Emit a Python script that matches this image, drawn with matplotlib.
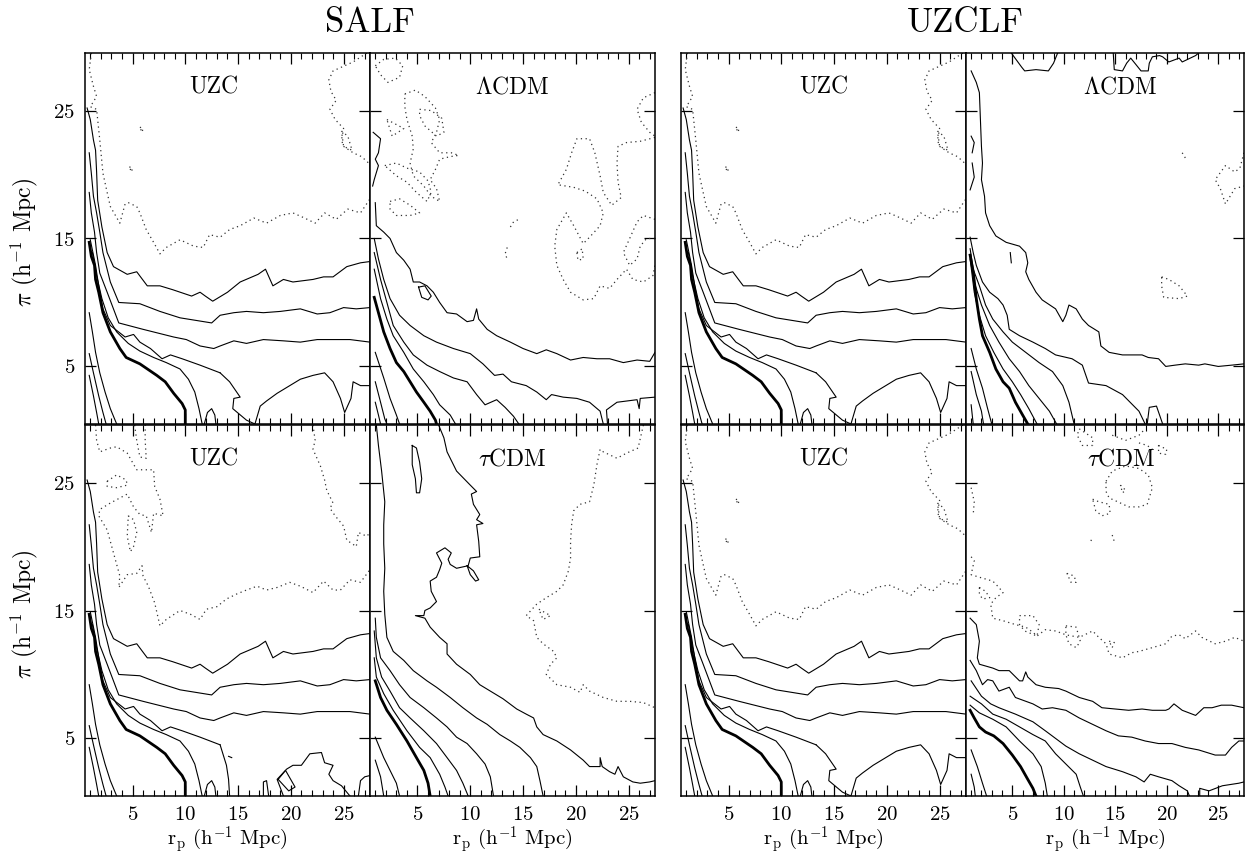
import matplotlib.pyplot as plt
from matplotlib.ticker import FixedLocator, MultipleLocator, NullLocator

plt.rcParams['font.family'] = ['cmr10', 'DejaVu Serif']
plt.rcParams['mathtext.fontset'] = 'cm'
plt.rcParams['axes.formatter.use_mathtext'] = True
plt.rcParams['axes.unicode_minus'] = False

# contour traces, points are (r_p, pi) in h^-1 Mpc

# UZC: the same solid contours show up in all four UZC panels
uzc_c1 = [(0.7, 25.2), (1.0, 24.3), (1.3, 22.7), (1.5, 21.9), (1.6, 20.2), (1.7, 18.0), (2.1, 15.9),
          (2.6, 13.9), (3.2, 12.8), (4.5, 12.2), (5.4, 12.4), (6.4, 11.3), (7.6, 11.3), (8.8, 11.0),
          (10.6, 10.5), (11.4, 10.8), (11.9, 10.5), (12.6, 10.1), (14.0, 10.8), (15.2, 11.6), (16.9, 12.2),
          (17.6, 12.6), (18.3, 11.3), (19.3, 11.8), (20.2, 11.6), (22.1, 11.8), (23.1, 12.0), (24.0, 12.0),
          (25.3, 12.8), (26.6, 13.1), (27.5, 13.2)]
uzc_c2 = [(0.9, 21.7), (1.1, 20.1), (1.3, 18.3), (1.6, 17.0), (1.9, 15.5), (2.2, 13.9), (2.9, 11.6),
          (3.7, 10.0), (5.7, 9.9), (7.6, 9.3), (9.5, 8.8), (12.5, 8.4), (13.3, 9.0), (14.6, 9.2), (15.8, 9.3),
          (17.4, 9.2), (19.0, 9.3), (20.9, 9.5), (22.5, 9.1), (23.7, 9.2), (25.0, 9.6), (26.2, 9.5), (27.5, 9.6)]
uzc_c3 = [(0.9, 18.6), (1.1, 17.0), (1.4, 15.5), (1.6, 13.9), (1.9, 12.3), (2.6, 10.8), (3.7, 8.4),
          (6.0, 7.9), (8.9, 7.3), (10.1, 7.1), (11.4, 6.6), (12.7, 6.4), (13.3, 6.6), (14.6, 7.0), (15.8, 6.8),
          (17.4, 7.1), (19.3, 7.0), (20.9, 6.9), (22.5, 7.1), (24.0, 7.1), (25.6, 7.1), (27.5, 6.9)]
uzc_c4 = [(1.0, 14.9), (1.5, 12.9), (1.8, 11.3), (2.2, 9.5), (2.9, 8.2), (4.3, 7.3), (5.1, 7.5), (5.7, 6.9),
          (6.7, 6.4), (7.8, 5.6), (8.6, 5.9), (9.7, 5.6), (11.4, 5.1), (13.3, 4.5)]
uzc_c4_tail = [(13.3, 4.5), (14.2, 3.8), (15.2, 2.6), (14.6, 2.5), (14.5, 1.7), (15.8, 0.8), (16.6, 0.5),
               (17.1, 1.9), (17.7, 2.3), (18.7, 2.9), (19.9, 3.5), (20.9, 4.0), (22.1, 4.3), (23.2, 4.5),
               (24.0, 3.8), (24.7, 2.5), (25.1, 1.4), (25.7, 2.5), (25.9, 3.8), (26.6, 3.5), (27.5, 3.5)]
uzc_c5 = [(1.2, 13.9), (1.6, 12.1), (2.1, 10.3), (2.7, 8.8), (3.5, 7.7), (4.6, 6.8), (5.7, 6.2), (7.0, 5.7),
          (8.2, 5.3), (9.5, 4.8), (10.3, 4.0), (10.9, 3.0), (11.3, 1.7), (11.6, 0.5)]
uzc_c5_bump = [(11.8, 0.5), (12.1, 1.4), (12.5, 1.7), (12.8, 1.2), (12.9, 0.5)]
uzc_c7 = [(0.9, 9.2), (1.2, 7.7), (1.5, 6.1), (1.9, 4.5), (2.4, 3.0), (2.9, 1.7), (3.5, 0.5)]
uzc_c8 = [(0.9, 6.0), (1.3, 4.5), (1.8, 2.7), (2.2, 1.4), (2.5, 0.5)]
uzc_c9 = [(0.9, 4.3), (1.3, 2.7), (1.6, 1.4), (1.8, 0.5)]
uzc_thick = [(0.9, 14.7), (1.1, 13.6), (1.4, 12.9), (1.5, 11.8), (1.8, 10.8), (2.2, 9.2), (2.9, 7.7),
             (3.8, 6.4), (4.4, 5.7), (5.7, 5.2), (7.3, 4.3), (8.1, 3.8), (8.9, 2.9), (9.7, 2.1), (10.0, 1.6),
             (10.0, 0.5)]
uzc_d1 = [(1.1, 29.5), (0.9, 28.2), (1.3, 26.9), (1.6, 26.1), (1.0, 25.3), (1.6, 25.1), (1.9, 22.7),
          (2.2, 20.1), (2.6, 18.6), (2.9, 17.5), (3.8, 16.2), (4.3, 17.7), (4.6, 17.8), (5.4, 17.5), (5.7, 17.0),
          (6.3, 15.7), (7.0, 14.7), (7.6, 13.8), (8.2, 14.3), (9.5, 14.9), (10.8, 14.4), (11.7, 14.3),
          (12.3, 15.3), (13.3, 15.1), (14.2, 15.7), (15.2, 16.0), (16.5, 16.6), (17.7, 16.2), (19.0, 16.8),
          (20.2, 17.0), (21.3, 16.6), (22.3, 16.2), (23.2, 17.0), (24.3, 16.5), (25.4, 17.3), (26.6, 17.0),
          (27.5, 18.1)]
uzc_d2 = [(27.2, 29.5), (25.9, 28.8), (24.0, 28.1), (23.6, 27.4), (23.8, 26.5), (24.3, 25.8), (23.7, 25.1),
          (24.2, 24.3), (25.0, 23.6), (24.8, 22.7), (25.0, 22.2), (25.9, 21.7), (26.7, 21.4), (27.5, 20.8)]
uzc_d3 = [(24.8, 23.4), (25.4, 23.0), (25.8, 21.9), (25.0, 22.2), (24.8, 23.4)]
uzc_d4 = [(5.7, 23.7), (6.0, 23.6), (5.9, 23.3), (5.7, 23.7)]
uzc_d5 = [(4.7, 20.6), (5.0, 20.5), (4.9, 20.2), (4.7, 20.6)]

# SALF bottom UZC: different bottom-right pieces and dotted contours
uzcb_c4_tail = [(13.3, 4.5), (13.9, 2.9), (14.1, 1.8), (14.2, 0.5)]
uzcb_a = [(17.4, 0.5), (17.4, 1.6), (17.7, 1.7), (17.9, 0.5)]
uzcb_b = [(19.3, 0.5), (18.7, 1.8), (19.6, 2.6), (20.2, 2.9), (21.0, 2.9), (21.8, 3.8), (22.9, 3.9),
          (23.2, 3.1), (24.0, 2.9), (23.6, 2.2), (24.0, 1.7), (24.8, 1.3), (25.6, 0.5)]
uzcb_diamond = [(18.8, 1.8), (19.5, 2.5), (20.4, 1.2), (19.8, 0.9), (18.8, 1.8)]
uzcb_c = [(26.4, 0.5), (26.6, 1.7), (27.0, 2.0), (27.5, 2.1)]
uzcb_dash = [(14.1, 3.6), (14.4, 3.5)]
uzcb_d1 = [(1.5, 29.5), (1.6, 28.3), (1.9, 27.4), (2.9, 27.7), (3.5, 27.8), (4.5, 27.3), (5.4, 26.0),
           (7.0, 26.0), (7.1, 24.7), (7.6, 23.7), (7.9, 22.4), (7.0, 22.6), (6.8, 21.1), (6.3, 22.4),
           (5.7, 22.5), (5.1, 23.1), (4.5, 24.1), (2.9, 23.4), (1.9, 22.9), (1.8, 22.4), (2.6, 21.3),
           (3.2, 19.5), (3.8, 17.7), (3.7, 16.8), (4.5, 17.8), (5.4, 17.9), (5.9, 18.5), (6.0, 17.7),
           (6.5, 16.9), (7.1, 15.6), (7.6, 13.8), (8.2, 14.3), (9.5, 15.0), (10.5, 14.7), (11.4, 14.3),
           (12.0, 15.1), (13.0, 15.3), (13.9, 15.9), (14.9, 16.3), (15.8, 16.6), (16.8, 16.9), (17.7, 16.6),
           (18.7, 16.8), (19.9, 17.2), (20.9, 16.9), (22.1, 16.4), (23.1, 17.3), (24.0, 16.6), (24.7, 16.6),
           (25.6, 17.4), (26.6, 17.2), (27.5, 18.2)]
uzcb_d2 = [(5.2, 29.5), (5.4, 28.3), (5.7, 27.0), (6.3, 26.9), (6.2, 28.3), (6.2, 29.5)]
uzcb_d3 = [(2.6, 25.1), (3.5, 25.6), (4.4, 25.2), (4.5, 24.8), (3.5, 24.6), (2.6, 24.7), (2.6, 25.1)]
uzcb_d4 = [(4.6, 22.4), (5.1, 22.1), (5.4, 21.1), (5.1, 20.0), (4.8, 19.6), (4.5, 20.8), (4.6, 22.4)]
uzcb_d5 = [(22.1, 29.5), (22.3, 28.3), (22.1, 27.6), (22.8, 26.3), (23.2, 25.2), (23.4, 24.4), (24.0, 23.4),
           (23.7, 23.0), (24.2, 22.4), (25.0, 21.6), (25.3, 20.5), (26.2, 20.0), (26.4, 21.1), (27.2, 20.8),
           (27.5, 21.1)]

# SALF, LambdaCDM
lcs_l0 = [(0.8, 23.3), (1.5, 22.8), (1.3, 21.7), (1.0, 21.2), (1.3, 20.7), (0.9, 19.6), (0.75, 19.1)]
lcs_l1 = [(1.0, 17.8), (1.1, 16.0), (1.8, 15.5), (2.4, 15.0), (3.0, 13.9), (3.7, 13.3), (4.3, 12.6),
          (4.6, 11.6), (5.2, 11.6), (5.9, 11.3), (6.5, 10.8), (7.1, 10.0), (7.8, 9.2), (8.7, 9.1), (9.7, 8.5),
          (10.3, 8.6), (10.6, 9.5), (10.8, 8.7), (11.6, 7.9), (12.5, 7.4), (13.8, 6.9), (15.0, 6.4),
          (16.3, 6.0), (17.2, 6.3), (18.2, 6.0), (19.5, 5.5), (20.7, 5.7), (22.0, 5.6), (23.2, 5.6),
          (24.5, 5.3), (25.8, 5.5), (27.0, 5.4), (27.5, 6.1)]
lcs_loop = [(5.1, 11.2), (5.7, 11.3), (6.3, 10.5), (6.0, 10.2), (5.4, 10.4), (5.1, 11.2)]
lcs_l2 = [(0.9, 15.0), (1.3, 13.4), (1.8, 11.8), (2.4, 10.3), (3.3, 9.0), (4.3, 8.2), (5.6, 7.4), (6.8, 6.9),
          (8.4, 6.4), (10.0, 6.0), (11.2, 5.2), (12.3, 4.3), (13.1, 4.4), (13.9, 3.8), (15.3, 3.5), (16.3, 3.0),
          (17.2, 2.4), (17.7, 2.8), (18.8, 2.6), (20.1, 2.5), (21.3, 2.2), (22.3, 1.5), (22.6, 0.5)]
lcs_l2b = [(23.0, 0.5), (22.9, 1.6), (23.9, 2.2), (25.8, 2.4), (26.0, 1.7), (26.1, 2.5), (27.5, 2.6)]
lcs_l3 = [(0.9, 13.9), (1.5, 11.8), (2.1, 10.0), (2.7, 8.2), (3.7, 6.9), (4.6, 5.9), (5.9, 5.1), (7.1, 4.6),
          (8.4, 4.1), (9.7, 3.8), (10.6, 2.8), (11.4, 2.0), (12.5, 2.4), (13.3, 1.8), (14.1, 1.1), (14.6, 0.5)]
lcs_l4 = [(0.9, 12.6), (1.5, 10.3), (2.1, 8.7), (2.7, 7.4), (3.7, 6.1), (4.6, 4.8), (5.6, 3.8), (6.5, 2.8),
          (7.1, 2.0), (8.1, 1.2), (8.6, 0.5)]
lcs_t1 = [(1.0, 6.1), (1.8, 4.1), (2.4, 2.5), (3.0, 1.2), (3.3, 0.5)]
lcs_t2 = [(1.0, 3.8), (1.5, 2.2), (1.9, 0.9), (2.1, 0.5)]
lcs_t3 = [(1.0, 2.2), (1.3, 1.2), (1.5, 0.5)]
lcs_thick = [(0.9, 10.4), (1.3, 9.2), (1.8, 7.7), (2.4, 6.4), (3.0, 5.3), (3.7, 4.6), (4.3, 3.8), (4.9, 3.0),
             (5.6, 2.2), (6.2, 1.5), (6.7, 0.8), (6.8, 0.5)]
lcs_da = [(1.0, 28.5), (1.8, 29.0), (2.9, 29.1), (3.6, 28.5), (3.3, 27.6), (2.2, 27.2), (1.5, 27.8), (1.0, 28.5)]
lcs_db = [(3.8, 26.3), (4.8, 26.6), (5.7, 26.1), (6.7, 25.2), (7.1, 24.3), (6.8, 23.3), (6.3, 22.5),
          (7.1, 21.7), (8.2, 21.7), (8.9, 21.5), (8.1, 21.4), (7.1, 21.2), (6.7, 20.4), (6.2, 19.6),
          (6.8, 18.9), (7.1, 17.9), (6.3, 18.3), (5.6, 19.1), (4.6, 19.9), (4.3, 20.9), (4.6, 22.0),
          (4.5, 23.0), (4.0, 24.3), (3.8, 25.3), (3.8, 26.3)]
lcs_dc = [(5.2, 25.1), (6.3, 25.0), (7.3, 24.4), (7.5, 23.3), (6.8, 23.0), (5.7, 23.8), (5.2, 24.6), (5.2, 25.1)]
lcs_dd = [(2.1, 24.3), (3.7, 23.6), (2.6, 23.0), (2.1, 24.3)]
lcs_de = [(1.9, 20.7), (3.0, 20.9), (4.0, 20.5), (5.2, 20.2), (6.0, 19.5), (6.3, 18.6), (5.9, 17.9),
          (4.9, 18.6), (4.0, 19.4), (3.0, 19.9), (1.9, 20.7)]
lcs_df = [(2.4, 17.9), (3.3, 18.1), (4.3, 17.6), (5.2, 17.0), (4.3, 16.8), (3.0, 16.8), (2.4, 17.3), (2.4, 17.9)]
lcs_dg = [(27.5, 22.9), (26.1, 22.6), (24.8, 22.5), (24.0, 22.2), (23.9, 20.9), (24.0, 19.4), (24.3, 18.2),
          (23.4, 17.6), (22.6, 18.6), (22.3, 19.9), (21.8, 21.7), (21.3, 22.8), (20.1, 22.8), (19.6, 21.7),
          (19.1, 20.4), (18.3, 19.2), (19.8, 19.0), (20.9, 18.7), (22.0, 18.1), (22.6, 17.0), (22.3, 16.0),
          (21.3, 15.1), (20.7, 14.6), (19.8, 16.0), (19.1, 17.0), (18.2, 15.7), (18.0, 14.4), (18.2, 12.9),
          (18.8, 11.8), (19.5, 10.8), (20.7, 10.2), (21.7, 10.3), (22.3, 11.3), (23.2, 11.1), (23.9, 11.8),
          (24.8, 12.6), (25.4, 11.8), (26.4, 11.6), (27.3, 12.1), (27.5, 12.9)]
lcs_dh = [(27.5, 16.5), (26.4, 16.8), (25.8, 16.3), (25.1, 15.0), (24.5, 13.9), (25.1, 12.9), (25.8, 13.4),
          (26.1, 14.4), (26.7, 15.0), (27.5, 15.0)]
lcs_di = [(20.1, 13.9), (20.6, 14.2), (20.7, 13.4), (20.2, 13.3), (20.1, 13.9)]
lcs_dj = [(27.5, 26.4), (26.4, 26.0), (25.8, 25.1), (26.2, 24.1), (27.0, 23.3), (27.5, 23.0)]
lcs_dk = [(13.8, 15.9), (14.1, 16.3), (14.6, 16.5)]
lcs_dl = [(13.5, 14.3), (13.3, 13.8), (13.5, 13.4)]

# SALF, tauCDM
tcs_s1 = [(7.0, 29.5), (7.5, 28.5), (7.8, 27.4), (8.7, 25.9), (10.0, 24.8), (10.6, 24.3), (10.1, 24.1),
          (10.3, 23.3), (10.9, 22.5), (10.6, 22.1), (11.2, 21.8), (10.6, 21.7), (10.8, 20.4), (10.9, 19.2),
          (10.0, 19.1), (9.8, 18.5), (8.7, 18.3), (8.1, 18.6), (7.9, 19.0), (8.2, 19.5), (7.6, 19.9),
          (6.8, 19.5), (7.3, 18.7), (7.1, 18.2), (6.8, 17.6), (6.2, 17.3), (6.3, 16.5), (6.8, 15.7),
          (6.2, 15.2), (5.7, 15.0), (5.6, 14.6), (4.8, 14.6), (5.7, 14.4), (6.2, 13.7), (7.1, 12.9),
          (7.8, 12.4), (7.8, 11.6), (8.7, 10.8), (10.0, 10.0), (10.9, 9.2), (11.9, 8.7), (13.1, 8.1),
          (14.4, 7.3), (15.3, 6.9), (16.0, 6.6), (16.3, 5.9), (16.9, 5.3), (18.2, 4.8), (19.5, 4.1),
          (20.7, 3.3), (21.3, 2.8), (22.3, 2.8), (22.3, 3.5), (22.5, 2.8), (23.2, 2.4), (23.7, 2.2),
          (24.0, 2.8), (24.5, 2.0), (25.4, 1.6), (26.1, 1.5), (27.0, 1.6), (27.5, 1.7)]
tcs_loop1 = [(9.7, 18.5), (10.3, 18.1), (10.8, 17.4), (10.5, 17.3), (10.0, 17.8), (9.7, 18.5)]
tcs_loop2 = [(4.5, 27.9), (4.9, 27.7), (5.2, 26.6), (5.4, 25.3), (5.2, 24.2), (4.9, 24.2), (4.8, 25.3),
             (4.5, 26.4), (4.5, 27.9)]
tcs_s2 = [(1.1, 29.5), (1.3, 27.9), (1.6, 25.9), (1.9, 23.5), (1.8, 21.7), (1.8, 20.2), (1.9, 18.3),
          (1.8, 16.5), (1.9, 14.7), (2.1, 12.9), (2.7, 11.8), (3.7, 11.1), (4.6, 10.3), (5.9, 9.5), (6.8, 9.0),
          (8.1, 8.2), (9.3, 7.4), (10.6, 6.6), (11.6, 6.1), (12.8, 5.3), (13.8, 4.8), (14.7, 4.3), (15.7, 3.5),
          (16.3, 2.8), (16.6, 1.7), (16.9, 0.5)]
tcs_s3 = [(1.0, 14.4), (1.1, 12.9), (1.5, 11.3), (2.4, 10.3), (3.3, 9.2), (4.3, 8.2), (5.6, 7.4), (6.8, 6.6),
          (7.8, 5.9), (8.7, 5.1), (9.7, 4.6), (10.6, 3.8), (11.4, 3.0), (11.9, 2.0), (12.2, 0.5)]
tcs_s4 = [(0.9, 13.4), (1.1, 11.3), (1.6, 9.8), (2.4, 8.7), (3.3, 7.4), (4.3, 6.6), (5.6, 5.6), (6.8, 4.6),
          (7.8, 3.5), (8.7, 2.5), (9.3, 1.5), (9.8, 0.5)]
tcs_s5 = [(0.9, 11.3), (1.1, 9.8), (1.8, 8.5), (2.7, 7.2), (4.0, 5.6), (5.2, 4.3), (6.2, 3.5), (7.1, 2.2),
          (7.6, 1.2), (7.9, 0.5)]
tcs_t1 = [(1.0, 5.1), (1.8, 3.5), (2.4, 2.5), (3.0, 1.5), (3.3, 0.5)]
tcs_t2 = [(1.0, 3.3), (1.5, 2.0), (1.8, 0.5)]
tcs_thick = [(1.0, 9.5), (1.5, 8.2), (2.1, 7.2), (3.0, 6.1), (4.0, 4.8), (4.9, 3.5), (5.6, 2.5), (6.0, 1.5),
             (6.2, 0.5)]
tcs_d1 = [(26.4, 29.5), (25.9, 27.7), (24.8, 27.3), (23.9, 26.9), (22.6, 27.4), (22.3, 27.6), (22.0, 26.4),
          (21.7, 24.8), (21.3, 23.5), (20.4, 23.3), (19.8, 22.8), (19.6, 21.7), (19.5, 20.4), (19.5, 19.1),
          (19.3, 18.1), (18.8, 17.0), (18.2, 16.5), (17.2, 16.0), (16.3, 15.5), (15.3, 14.6), (16.0, 14.2),
          (16.3, 12.9), (16.9, 12.4), (17.9, 11.8), (18.2, 11.3), (17.6, 10.8), (17.2, 10.0), (18.2, 9.2),
          (19.5, 9.0), (20.4, 8.6), (20.7, 9.2), (21.3, 8.7), (22.6, 8.2), (23.9, 7.9), (25.1, 7.9),
          (26.4, 7.8), (27.5, 7.4)]
tcs_d2 = [(16.5, 15.1), (17.6, 14.6), (16.9, 14.3), (16.5, 15.1)]

# UZCLF, LambdaCDM
lcu_top1 = [(4.9, 29.5), (5.9, 28.4), (6.2, 28.1), (7.3, 28.2), (8.5, 28.1), (9.0, 28.7), (9.4, 29.5)]
lcu_top2 = [(14.8, 29.5), (14.9, 28.2), (15.7, 28.1), (16.1, 28.7), (16.5, 29.1), (17.0, 28.6), (17.5, 28.1),
            (18.2, 28.1), (18.3, 28.7), (18.6, 29.2), (19.3, 29.3), (19.6, 29.2), (20.2, 28.8), (21.2, 29.1),
            (21.5, 28.8), (22.8, 29.3), (23.1, 29.5)]
lcu_m1 = [(1.0, 28.1), (1.5, 27.2), (1.8, 26.4), (1.9, 24.3), (2.0, 22.2), (2.1, 20.9), (2.0, 19.6),
          (2.3, 18.3), (2.4, 17.0), (2.8, 16.0), (3.4, 15.2), (4.4, 14.7), (5.7, 14.4), (6.3, 13.9),
          (6.5, 13.1), (6.3, 12.4), (6.6, 11.8), (7.3, 10.8), (7.9, 10.2), (9.2, 9.5), (9.9, 8.5),
          (10.2, 9.0), (10.5, 9.8), (11.2, 9.5), (11.8, 8.7), (12.4, 8.2), (13.4, 7.7), (13.6, 6.6),
          (14.4, 6.1), (15.7, 5.9), (17.6, 5.9), (18.2, 5.7), (19.2, 5.6), (19.9, 5.0), (20.8, 5.1),
          (21.8, 5.2), (23.1, 5.1), (23.7, 5.2), (25.0, 5.0), (26.3, 5.1), (27.5, 5.2)]
lcu_e1 = [(1.0, 23.0), (1.3, 22.5), (1.1, 21.7)]
lcu_e2 = [(1.1, 20.9), (1.3, 19.8), (0.9, 18.8)]
lcu_dash = [(4.8, 13.9), (4.9, 13.1)]
lcu_m2 = [(0.9, 15.1), (1.2, 13.9), (1.5, 12.9), (2.1, 11.6), (2.8, 10.8), (3.6, 10.3), (4.1, 9.8), (4.5, 9.0),
          (4.7, 7.9), (5.7, 7.4), (7.0, 6.9), (8.2, 6.4), (9.2, 5.9), (10.8, 5.6), (11.8, 5.1), (12.4, 3.7),
          (14.1, 3.5), (15.7, 2.8), (17.3, 1.5), (17.9, 0.5)]
lcu_bump = [(18.1, 0.5), (18.3, 1.8), (19.0, 1.9), (19.6, 0.5)]
lcu_m3 = [(0.9, 14.2), (1.2, 12.6), (1.8, 11.3), (2.4, 9.8), (3.1, 8.7), (4.1, 7.7), (5.0, 6.9), (6.3, 6.1),
          (7.6, 5.3), (8.9, 4.6), (9.9, 3.5), (10.5, 2.2), (11.0, 0.5)]
lcu_m4 = [(0.9, 13.7), (1.3, 11.6), (2.0, 9.8), (2.8, 8.2), (3.7, 6.9), (4.7, 5.6), (5.7, 4.6), (6.6, 3.5),
          (7.6, 2.5), (8.6, 1.5), (9.3, 0.5)]
lcu_m5 = [(0.9, 13.4), (1.3, 10.8), (1.8, 9.0), (2.4, 7.4), (3.2, 6.1), (4.1, 4.8), (5.0, 3.8), (5.8, 2.8),
          (6.6, 1.7), (7.4, 0.5)]
lcu_t1 = [(1.0, 6.4), (1.5, 4.8), (2.1, 3.3), (2.6, 1.7), (3.0, 0.5)]
lcu_t2 = [(1.0, 4.6), (1.5, 2.8), (2.0, 1.5), (2.2, 0.5)]
lcu_t3 = [(1.0, 2.0), (1.2, 0.5)]
lcu_thick = [(0.9, 13.7), (1.2, 12.4), (1.5, 10.3), (1.8, 8.7), (2.1, 7.4), (2.8, 6.1), (3.4, 4.8), (4.1, 3.8),
             (4.7, 3.3), (5.3, 2.2), (6.0, 1.2), (6.5, 0.5)]
lcu_d1 = [(19.5, 12.0), (20.2, 11.8), (21.2, 11.3), (22.0, 10.5), (21.2, 10.3), (19.7, 10.4), (19.5, 11.3),
          (19.5, 12.0)]
lcu_d2 = [(27.5, 21.7), (27.1, 20.5), (26.6, 20.2), (25.7, 20.7), (24.7, 19.6), (25.2, 18.9), (25.7, 17.7),
          (26.3, 18.5), (26.6, 18.9), (27.5, 19.1)]
lcu_d3 = [(21.5, 21.7), (21.8, 21.3)]

# UZCLF, tauCDM
tcu_r1 = [(0.9, 14.4), (1.5, 13.9), (1.8, 12.6), (1.6, 11.3), (1.8, 10.8), (3.1, 10.5), (3.7, 10.3),
          (4.7, 10.3), (5.7, 9.5), (6.0, 9.5), (6.3, 10.2), (6.5, 9.8), (7.3, 9.2), (8.2, 9.0), (9.5, 8.9),
          (10.2, 8.7), (11.5, 8.2), (12.8, 7.9), (13.7, 7.4), (15.0, 7.3), (16.3, 7.2), (17.6, 7.3),
          (18.6, 7.2), (19.9, 7.2), (20.2, 7.3), (20.7, 7.7), (21.5, 7.2), (22.8, 6.8), (23.6, 7.4),
          (24.4, 7.4), (25.3, 7.6), (26.3, 7.6), (27.5, 7.4)]
tcu_r2 = [(0.9, 11.1), (1.5, 10.3), (2.1, 9.2), (2.6, 9.6), (3.1, 9.5), (3.7, 8.7), (4.7, 9.0), (5.3, 8.2),
          (7.0, 7.7), (7.9, 7.3), (8.9, 7.4), (10.2, 7.2), (11.5, 6.6), (12.8, 6.1), (14.1, 5.6), (15.3, 5.2),
          (16.6, 5.1), (17.9, 4.8), (19.2, 4.6), (20.5, 4.6), (21.8, 4.3), (23.1, 4.1), (24.7, 3.7),
          (25.7, 3.7), (26.3, 4.3), (27.0, 4.8), (27.5, 4.8)]
tcu_r3 = [(1.0, 9.5), (2.0, 8.3), (2.9, 7.7), (3.7, 7.4), (5.3, 6.9), (7.0, 6.3), (8.2, 5.6), (9.2, 5.0),
          (10.2, 4.4), (11.5, 3.8), (12.8, 3.3), (14.1, 2.8), (15.7, 2.4), (17.0, 2.0), (17.8, 1.6),
          (18.4, 2.2), (19.2, 2.0), (20.5, 1.7), (21.2, 1.3), (22.0, 0.9), (22.2, 0.5)]
tcu_r3b = [(23.2, 0.5), (23.2, 1.1), (24.1, 0.9), (25.4, 1.3), (27.0, 1.5), (27.5, 1.6)]
tcu_r4 = [(0.9, 8.3), (2.0, 7.7), (3.1, 6.9), (4.4, 6.5), (5.7, 5.9), (7.0, 5.3), (8.2, 4.8), (9.2, 3.8),
          (10.2, 3.0), (11.2, 2.2), (11.6, 1.2), (11.9, 0.5)]
tcu_r5 = [(0.9, 7.6), (1.8, 7.0), (3.1, 6.5), (4.4, 5.9), (5.7, 4.8), (7.0, 3.8), (7.8, 2.8), (8.2, 1.5),
          (8.4, 0.5)]
tcu_t1 = [(1.0, 4.1), (1.6, 2.8), (2.1, 1.5), (2.5, 0.5)]
tcu_t2 = [(1.0, 2.2), (1.3, 1.2), (1.4, 0.5)]
tcu_thick = [(0.9, 7.2), (1.3, 6.6), (1.8, 5.9), (2.4, 5.5), (3.2, 5.2), (4.1, 4.6), (5.0, 3.7), (5.8, 2.8),
             (6.5, 1.8), (7.0, 1.1), (7.3, 0.5)]
tcu_d1 = [(1.0, 19.2), (1.3, 18.9), (1.0, 17.8), (1.8, 17.6), (3.1, 17.3), (3.7, 16.8), (4.1, 16.4),
          (3.4, 16.0), (2.9, 15.5), (3.1, 14.4), (4.1, 14.2), (5.3, 13.9), (6.3, 13.7), (7.0, 13.3),
          (7.4, 13.0), (8.2, 13.5), (9.2, 13.4), (10.2, 13.1), (11.5, 12.9), (12.8, 13.4), (13.4, 12.9),
          (14.1, 12.4), (14.4, 11.6), (15.7, 11.3), (16.6, 11.7), (17.3, 11.8), (18.6, 12.1), (19.9, 12.4),
          (20.5, 13.0), (21.2, 13.1), (21.8, 12.8), (22.8, 13.4), (23.4, 12.9), (24.7, 12.4), (25.7, 12.6),
          (26.6, 12.9), (27.5, 12.6)]
tcu_d2 = [(1.0, 24.6), (1.3, 23.5), (1.2, 22.5)]
tcu_d3 = [(5.7, 14.6), (7.0, 14.6), (7.6, 13.9), (7.4, 13.0), (6.2, 13.4), (5.7, 13.9), (5.7, 14.6)]
tcu_d4 = [(10.2, 13.8), (11.2, 13.7), (11.6, 12.6), (11.2, 12.1), (10.5, 12.4), (10.2, 13.1), (10.2, 13.8)]
tcu_d5 = [(1.8, 16.8), (2.4, 16.5), (2.8, 16.0), (2.1, 15.9), (1.8, 16.3), (1.8, 16.8)]
tcu_d6 = [(14.4, 12.6), (14.9, 12.5), (14.7, 12.1), (14.4, 12.6)]
tcu_d7 = [(11.5, 29.2), (12.8, 28.5), (12.8, 27.9), (11.8, 27.9), (11.3, 28.7), (11.5, 29.2)]
tcu_d8 = [(14.7, 28.7), (16.0, 28.3), (17.3, 28.7), (17.9, 29.2)]
tcu_d9 = [(19.2, 27.9), (20.0, 27.6), (19.9, 27.2), (19.2, 27.3), (19.2, 27.9)]
tcu_d10 = [(17.3, 28.1), (18.1, 27.9), (18.6, 27.6)]
tcu_d11 = [(14.1, 25.1), (14.7, 25.9), (16.0, 26.3), (17.3, 26.1), (18.2, 25.6), (18.6, 24.6), (18.1, 23.3),
           (17.3, 23.1), (16.3, 23.1), (15.5, 23.4), (14.4, 23.8), (14.1, 24.3), (14.1, 25.1)]
tcu_d12 = [(15.5, 24.8), (16.0, 24.4), (15.7, 24.2), (15.5, 24.8)]
tcu_d13 = [(12.8, 23.7), (13.4, 23.5), (14.4, 23.3), (14.5, 22.6), (13.7, 22.4), (13.1, 22.8), (12.8, 23.7)]
tcu_d14 = [(10.3, 17.9), (11.0, 17.7), (11.2, 17.2), (10.7, 17.2), (10.3, 17.9)]
tcu_d15 = [(12.6, 20.5), (12.9, 20.4)]
tcu_d16 = [(14.7, 20.9), (14.9, 20.4)]

group_titles = ['SALF', 'UZCLF']
panel_names = [['UZC', r'$\Lambda$CDM', 'UZC', r'$\Lambda$CDM'],
               ['UZC', r'$\tau$CDM', 'UZC', r'$\tau$CDM']]
x_ticks = [5, 10, 15, 20, 25]
y_ticks = [5, 15, 25]
x_range = (0.5, 27.5)
y_range = (0.5, 29.5)

uzc_solid = [uzc_c1, uzc_c2, uzc_c3, uzc_c4, uzc_c5, uzc_c5_bump, uzc_c7, uzc_c8, uzc_c9]
uzc_top = uzc_solid + [uzc_c4_tail]
uzc_bot = uzc_solid + [uzcb_c4_tail, uzcb_a, uzcb_b, uzcb_diamond, uzcb_c, uzcb_dash]
uzc_dots = [uzc_d1, uzc_d2, uzc_d3, uzc_d4, uzc_d5]

solid = [[uzc_top,
          [lcs_l0, lcs_l1, lcs_loop, lcs_l2, lcs_l2b, lcs_l3, lcs_l4, lcs_t1, lcs_t2, lcs_t3],
          uzc_top,
          [lcu_top1, lcu_top2, lcu_m1, lcu_e1, lcu_e2, lcu_dash, lcu_m2, lcu_bump, lcu_m3, lcu_m4, lcu_m5,
           lcu_t1, lcu_t2, lcu_t3]],
         [uzc_bot,
          [tcs_s1, tcs_loop1, tcs_loop2, tcs_s2, tcs_s3, tcs_s4, tcs_s5, tcs_t1, tcs_t2],
          uzc_top,
          [tcu_r1, tcu_r2, tcu_r3, tcu_r3b, tcu_r4, tcu_r5, tcu_t1, tcu_t2]]]
thick = [[uzc_thick, lcs_thick, uzc_thick, lcu_thick],
         [uzc_thick, tcs_thick, uzc_thick, tcu_thick]]
dotted = [[uzc_dots,
           [lcs_da, lcs_db, lcs_dc, lcs_dd, lcs_de, lcs_df, lcs_dg, lcs_dh, lcs_di, lcs_dj, lcs_dk, lcs_dl],
           uzc_dots,
           [lcu_d1, lcu_d2, lcu_d3]],
          [[uzcb_d1, uzcb_d2, uzcb_d3, uzcb_d4, uzcb_d5],
           [tcs_d1, tcs_d2],
           uzc_dots,
           [tcu_d1, tcu_d2, tcu_d3, tcu_d4, tcu_d5, tcu_d6, tcu_d7, tcu_d8, tcu_d9, tcu_d10, tcu_d11,
            tcu_d12, tcu_d13, tcu_d14, tcu_d15, tcu_d16]]]

# layout in pixels of the 1245x856 image
W, H = 1245, 856
col_left = [85, 370, 681, 966]
col_width = [285, 285, 285, 278]
row_top = [53, 425]
row_h = 371
name_xpos = [[0.453, 0.497, 0.5, 0.556], [0.453, 0.497, 0.5, 0.559]]
title_xpos = [370, 965]

fig = plt.figure(figsize=(W / 100, H / 100), dpi=100)

for r in range(2):
    for c in range(4):
        ax = fig.add_axes([col_left[c] / W, 1 - (row_top[r] + row_h) / H, col_width[c] / W, row_h / H])
        for line in solid[r][c]:
            xs, ys = zip(*line)
            ax.plot(xs, ys, color='k', lw=0.8)
        xs, ys = zip(*thick[r][c])
        ax.plot(xs, ys, color='k', lw=2.0)
        for line in dotted[r][c]:
            xs, ys = zip(*line)
            ax.plot(xs, ys, color='#333333', lw=0.9, linestyle=(0, (1, 2.8)))

        ax.set_xlim(*x_range)
        ax.set_ylim(*y_range)
        ax.xaxis.set_major_locator(FixedLocator(x_ticks))
        ax.xaxis.set_minor_locator(MultipleLocator(1))
        ax.yaxis.set_major_locator(FixedLocator(y_ticks))
        ax.yaxis.set_minor_locator(NullLocator())
        ax.tick_params(which='both', direction='in', top=True, right=True, labelsize=15,
                       labelbottom=(r == 1), labelleft=(c == 0))
        ax.tick_params(which='major', length=8, width=0.9)
        ax.tick_params(which='minor', length=4, width=0.8)
        ax.tick_params(axis='x', pad=7)
        ax.tick_params(axis='y', pad=7)
        for s in ax.spines.values():
            s.set_linewidth(1.1)

        ax.text(name_xpos[r][c], 0.906, panel_names[r][c], transform=ax.transAxes,
                ha='center', va='center', fontsize=17)

        if r == 1:
            fig.text((col_left[c] + col_width[c] / 2) / W, 1 - 840 / H, r'r$_{\rm p}$ (h$^{-1}$ Mpc)',
                     ha='center', va='center', fontsize=15)
        if c == 0:
            fig.text(24 / W, 1 - (row_top[r] + 189) / H, r'$\pi$ (h$^{-1}$ Mpc)', rotation=90,
                     ha='center', va='center', fontsize=17)

for t, xp in zip(group_titles, title_xpos):
    fig.text(xp / W, 1 - 23 / H, t, ha='center', va='center', fontsize=25)

fig.savefig('out.png', dpi=100)
